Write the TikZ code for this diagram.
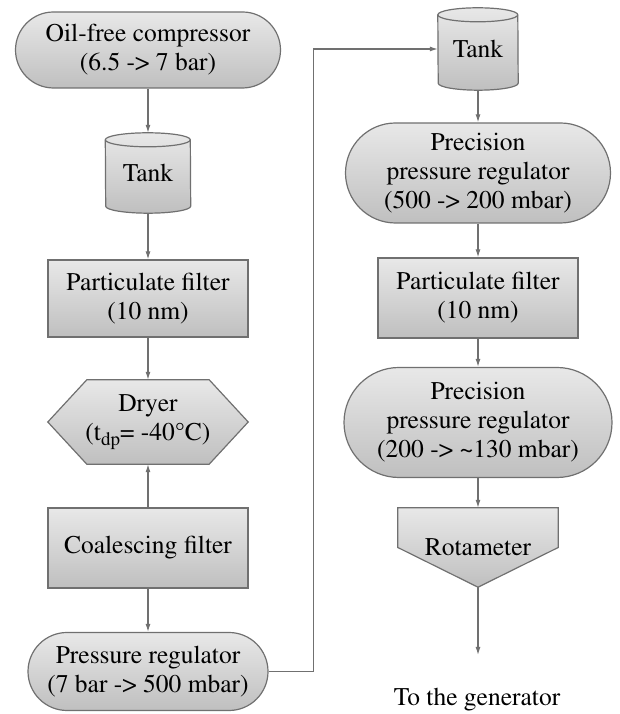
\documentclass[tikz,border=0pt]{standalone}
\usepackage[T1]{fontenc}
\usepackage{times}
\usetikzlibrary{arrows.meta,backgrounds}
\definecolor{edgegray}{HTML}{707070}
\newcommand\fs{\fontsize{25.5}{29}\selectfont}
\tikzset{
  box/.style={draw=edgegray, line width=1.2pt, top color=gray!18, bottom color=gray!50},
  txt/.style={align=center, font=\fs, inner sep=0pt},
  procbox/.style={box, txt, minimum width=#1},
  stadium/.style={box, txt, rounded corners=#1},
  ghost/.style={txt},
  flow/.style={draw=edgegray, line width=1.2pt, -{Latex[length=8pt,width=5pt]}},
  thinline/.style={draw=edgegray, line width=1.2pt}
}
\begin{document}
\begin{tikzpicture}[x=1pt,y=1pt]
\useasboundingbox (0,0) rectangle (619,714);
% left column
\node[stadium=38pt, minimum width=265pt, minimum height=76pt] (comp) at (148,664) {Oil-free compressor\\(6.5 -> 7 bar)};
\node[ghost, minimum width=85pt, minimum height=80pt] (tankL) at (148,541) {Tank};
\node[procbox=200pt, minimum height=77pt] (pf1) at (148,415.5) {Particulate filter\\(10 nm)};
\node[ghost, minimum width=200pt, minimum height=84pt] (dryer) at (148,292) {Dryer\\(t{\fontsize{19}{19}\selectfont\raisebox{-5pt}{dp}}= -40\textdegree C)};
\node[procbox=200pt, minimum height=80pt] (coal) at (148,166) {Coalescing filter};
\node[stadium=39pt, minimum width=240pt, minimum height=78pt] (preg) at (148,42.5) {Pressure regulator\\(7 bar -> 500 mbar)};
% right column
\node[ghost, minimum width=80pt, minimum height=82pt] (tankR) at (478,665) {Tank};
\node[stadium=50pt, minimum width=265pt, minimum height=100pt] (prec1) at (478,541) {Precision\\pressure regulator\\(500 -> 200 mbar)};
\node[procbox=200pt, minimum height=80pt] (pf2) at (478,416) {Particulate filter\\(10 nm)};
\node[stadium=55pt, minimum width=268pt, minimum height=110pt] (prec2) at (478,291.5) {Precision\\pressure regulator\\(200 -> \textasciitilde130 mbar)};
\node[ghost, minimum width=160pt, minimum height=79pt] (rot) at (478,166.5) {Rotameter};
\coordinate (out) at (478,59);
\node[ghost] (genlabel) at (477,14) {To the generator};
% shapes behind text
\begin{scope}[on background layer]
  \foreach \t/\rx in {tankL/42.5, tankR/40} {
    \path[box] ([yshift=-7pt]\t.north west) arc[start angle=180, end angle=0, x radius=\rx pt, y radius=7pt]
      -- ([yshift=7pt]\t.south east) arc[start angle=0, end angle=-180, x radius=\rx pt, y radius=7pt] -- cycle;
    \draw[thinline] ([yshift=-7pt]\t.north west) arc[start angle=180, end angle=360, x radius=\rx pt, y radius=7pt];
  }
  \path[box] (dryer.west) -- ([xshift=39pt]dryer.north west) -- ([xshift=-39pt]dryer.north east)
    -- (dryer.east) -- ([xshift=-39pt]dryer.south east) -- ([xshift=39pt]dryer.south west) -- cycle;
  \path[box] (rot.north west) -- (rot.north east) -- (rot.east) -- (rot.south) -- (rot.west) -- cycle;
\end{scope}
% connectors
\draw[flow] (comp) -- (tankL);
\draw[flow] (tankL) -- (pf1);
\draw[flow] (pf1) -- (dryer);
\draw[flow] (coal) -- (dryer);
\draw[flow] (coal) -- (preg);
\draw[flow] (preg.east) -- ++(45,0) |- (tankR.west);
\draw[flow] (tankR) -- (prec1);
\draw[flow] (prec1) -- (pf2);
\draw[flow] (pf2) -- (prec2);
\draw[flow] (prec2) -- (rot);
\draw[flow] (rot.south) -- (out);
\end{tikzpicture}
\end{document}
